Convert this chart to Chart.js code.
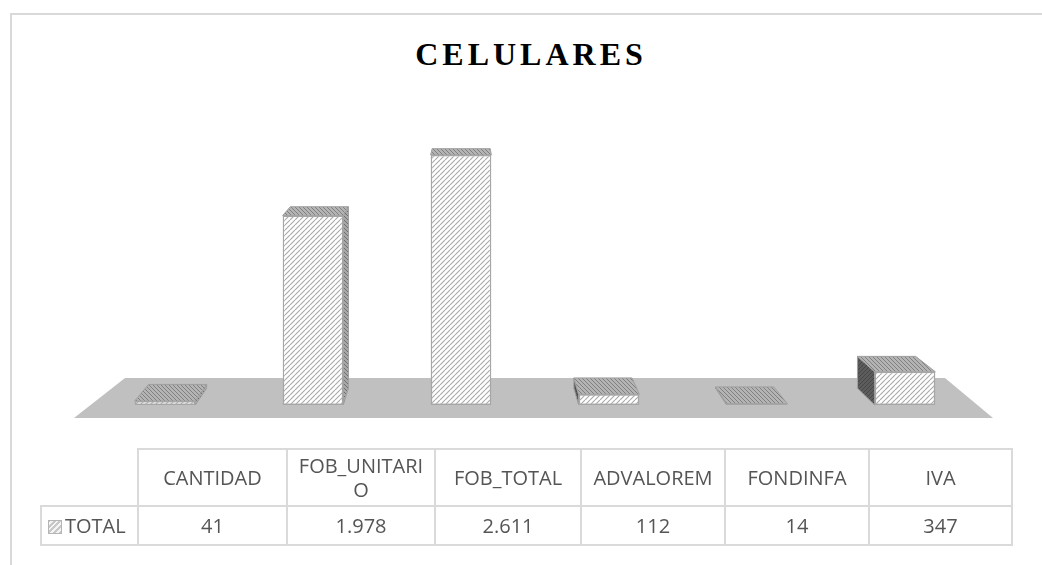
<!DOCTYPE html>
<html>
<head>
<meta charset="utf-8">
<script src="https://cdn.jsdelivr.net/npm/chart.js@4/dist/chart.umd.min.js"></script>
<style>
  body { margin: 0; background: #fff; }
  #wrap { position: relative; width: 1042px; height: 565px; overflow: hidden; }
  #frame { position: absolute; left: 10px; top: 13px; width: 1100px; height: 600px;
           border-left: 2px solid #d9d9d9; border-top: 2px solid #d9d9d9; }
  #title { position: absolute; left: 0; width: 1062px; top: 36px; text-align: center;
           font: bold 32px "Liberation Serif", serif; letter-spacing: 4px; color: #000; }
  #myChart { position: absolute; left: 0; top: 0; }
  #data-table { position: absolute; left: 40px; top: 448px; border-collapse: collapse;
                table-layout: fixed; font-family: "Open Sans", sans-serif; font-size: 20px; color: #555; }
  #data-table td { border: 2px solid #dadada; text-align: center; padding: 0 4px; word-break: break-all; }
  #data-table tr.head td { height: 55px; line-height: 24px; }
  #data-table tr.vals td { height: 37px; line-height: 24px; }
  #data-table td.blank { border-top: none; border-left: none; }
  #data-table td.series { text-align: left; padding-left: 6px; white-space: nowrap; }
  .key { display: inline-block; width: 12px; height: 12px; margin-right: 3px; vertical-align: -1px;
         border: 1px solid #b5b5b5;
         background: repeating-linear-gradient(-45deg, #c8c8c8 0 2px, #f4f4f4 2px 4px); }
</style>
</head>
<body>
<div id="wrap">
  <div id="frame"></div>
  <div id="title">CELULARES</div>
  <canvas id="myChart" width="1042" height="565"></canvas>
  <table id="data-table"></table>
</div>
<script>
let categories = ["CANTIDAD", "FOB_UNITARIO", "FOB_TOTAL", "ADVALOREM", "FONDINFA", "IVA"];
let totals = [41, 1978, 2611, 112, 14, 347];
let seriesName = "TOTAL";
let colWidths = [97, 149, 148, 146, 144, 144, 143];

function fmt(v) {
  return String(v).replace(/\B(?=(\d{3})+(?!\d))/g, ".");
}

// hatch tiles
function makeTile(size, bg, line, lw, dir) {
  let c = document.createElement("canvas");
  c.width = size; c.height = size;
  let g = c.getContext("2d");
  g.fillStyle = bg;
  g.fillRect(0, 0, size, size);
  g.strokeStyle = line;
  g.lineWidth = lw;
  g.beginPath();
  for (let k = -1; k <= 1; k++) {
    if (dir > 0) {
      g.moveTo(k * size, size); g.lineTo(k * size + size, 0);
    } else {
      g.moveTo(k * size, 0); g.lineTo(k * size + size, size);
    }
  }
  g.stroke();
  return g.createPattern(c, "repeat");
}

let frontPattern = makeTile(5, "#ffffff", "#a8a8a8", 1.1, 1);
let topPattern = makeTile(4, "#b4b4b4", "#808080", 1, -1);
let sideRightPattern = makeTile(4, "#a8a8a8", "#6e6e6e", 1, -1);
let sideLeftPattern = makeTile(4, "#5c5c5c", "#474747", 1, 1);

// 3D look: floor, top and side faces, drawn behind the bar fronts
const faces3d = {
  id: "faces3d",
  beforeDatasetsDraw(chart) {
    let ctx = chart.ctx;
    let area = chart.chartArea;
    let y0 = chart.scales.y.getPixelForValue(0);
    let vx = 465, vy = 5, t = 0.042;
    let back = (x, y) => [x + t * (vx - x), y + t * (vy - y)];

    ctx.save();
    ctx.fillStyle = "#c0c0c0";
    ctx.beginPath();
    ctx.moveTo(area.left - 17, y0 + 13);
    ctx.lineTo(area.right + 14, y0 + 13);
    ctx.lineTo(area.right - 34, y0 - 27);
    ctx.lineTo(area.left + 34, y0 - 27);
    ctx.closePath();
    ctx.fill();

    let meta = chart.getDatasetMeta(0);
    meta.data.forEach(bar => {
      let L = bar.x - bar.width / 2, R = bar.x + bar.width / 2;
      let top = bar.y, base = bar.base;
      let tl = back(L, top), tr = back(R, top);
      let bl = back(L, base), br = back(R, base);

      ctx.strokeStyle = "#a0a0a0";
      ctx.lineWidth = 1;
      // side face
      if (tr[0] > R + 0.5) {
        ctx.fillStyle = sideRightPattern;
        ctx.beginPath();
        ctx.moveTo(R, top); ctx.lineTo(tr[0], tr[1]); ctx.lineTo(br[0], br[1]); ctx.lineTo(R, base);
        ctx.closePath(); ctx.fill(); ctx.stroke();
      } else if (tl[0] < L - 0.5) {
        ctx.fillStyle = sideLeftPattern;
        ctx.beginPath();
        ctx.moveTo(L, top); ctx.lineTo(tl[0], tl[1]); ctx.lineTo(bl[0], bl[1]); ctx.lineTo(L, base);
        ctx.closePath(); ctx.fill(); ctx.stroke();
      }
      // top face
      ctx.fillStyle = topPattern;
      ctx.beginPath();
      ctx.moveTo(L, top); ctx.lineTo(R, top); ctx.lineTo(tr[0], tr[1]); ctx.lineTo(tl[0], tl[1]);
      ctx.closePath(); ctx.fill(); ctx.stroke();
    });
    ctx.restore();
  }
};

let ctx = document.getElementById("myChart").getContext("2d");
let myChart = new Chart(ctx, {
  type: "bar",
  data: {
    labels: categories,
    datasets: [{
      label: seriesName,
      data: totals,
      backgroundColor: frontPattern,
      borderColor: "#a6a6a6",
      borderWidth: 1.5,
      borderSkipped: false,
      barPercentage: 0.41,
      categoryPercentage: 1
    }]
  },
  options: {
    responsive: false,
    animation: false,
    layout: { padding: { left: 91, right: 63, top: 120, bottom: 160 } },
    scales: {
      x: { display: false },
      y: { display: false, min: 0, max: 2976 }
    },
    plugins: {
      legend: { display: false },
      title: { display: false },
      tooltip: { enabled: false }
    }
  },
  plugins: [faces3d]
});

// data table under the chart
function buildTable() {
  let table = document.getElementById("data-table");
  let colgroup = "<colgroup>" + colWidths.map(w => `<col style="width:${w}px">`).join("") + "</colgroup>";
  let head = `<tr class="head"><td class="blank"></td>` +
    categories.map(c => `<td>${c}</td>`).join("") + "</tr>";
  let vals = `<tr class="vals"><td class="series"><span class="key"></span>${seriesName}</td>` +
    totals.map(v => `<td>${fmt(v)}</td>`).join("") + "</tr>";
  table.style.width = colWidths.reduce((a, b) => a + b, 0) + "px";
  table.innerHTML = colgroup + head + vals;
}

buildTable();
</script>
</body>
</html>
